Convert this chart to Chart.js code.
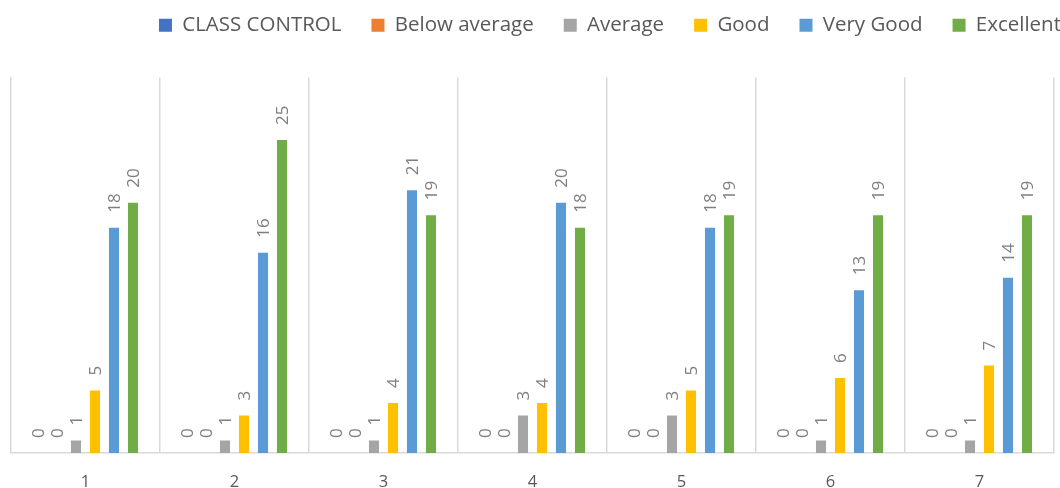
<!DOCTYPE html>
<html><head><meta charset="utf-8">
<script src="https://cdn.jsdelivr.net/npm/chart.js@4.4.1/dist/chart.umd.min.js"></script>
<style>html,body{margin:0;padding:0;background:#fff}#wrap{width:1060px;height:488px}</style>
</head><body><div id="wrap"><canvas id="c" width="1060" height="488"></canvas></div>
<script>
const categories = ['1','2','3','4','5','6','7'];
const classControl = [0,0,0,0,0,0,0];
const belowAverage = [0,0,0,0,0,0,0];
const average = [1,1,1,3,3,1,1];
const good = [5,3,4,4,5,6,7];
const veryGood = [18,16,21,20,18,13,14];
const excellent = [20,25,19,18,19,19,19];
const seriesNames = ['CLASS CONTROL','Below average','Average','Good','Very Good','Excellent'];
const colors = ['#4472C4','#ED7D31','#A5A5A5','#FFC000','#5B9BD5','#70AD47'];
const FONT = 'Open Sans';

const labelPlugin = {
  id: 'vlabels',
  afterLayout(chart) {
    const lg = chart.legend;
    if (lg) { lg.top -= 32; lg.bottom -= 32; lg.left += 37; lg.right += 37; }
  },
  afterDatasetsDraw(chart) {
    const ctx = chart.ctx;
    ctx.save();
    ctx.font = '17px "' + FONT + '"';
    ctx.fillStyle = '#7f7f7f';
    ctx.textAlign = 'left';
    ctx.textBaseline = 'middle';
    chart.data.datasets.forEach((ds, i) => {
      const meta = chart.getDatasetMeta(i);
      meta.data.forEach((bar, j) => {
        ctx.save();
        ctx.translate(bar.x + 1, bar.y - 15);
        ctx.rotate(-Math.PI / 2);
        ctx.fillText(String(ds.data[j]), 0, 0);
        ctx.restore();
      });
    });
    ctx.restore();
  }
};

const allData = [classControl, belowAverage, average, good, veryGood, excellent];
new Chart(document.getElementById('c'), {
  type: 'bar',
  data: {
    labels: categories,
    datasets: allData.map((d, i) => ({
      label: seriesNames[i], data: d, backgroundColor: colors[i],
      categoryPercentage: 0.765, barPercentage: 0.53
    }))
  },
  options: {
    responsive: false, animation: false,
    layout: { padding: { left: 11, right: 6, top: 17, bottom: -22.8 } },
    plugins: {
      legend: {
        position: 'top', align: 'end',
        labels: { font: { family: FONT, size: 20.5 }, color: '#595959', boxWidth: 13, boxHeight: 13, padding: 30 }
      },
      tooltip: { enabled: false }
    },
    scales: {
      x: {
        grid: { color: '#d9d9d9', lineWidth: 1.5, drawTicks: false, offset: true },
        border: { color: '#d9d9d9', width: 1.5 },
        ticks: { font: { family: FONT, size: 16.5 }, color: '#595959', padding: 19 }
      },
      y: { display: false, min: 0, max: 30 }
    }
  },
  plugins: [labelPlugin]
});
</script></body></html>
